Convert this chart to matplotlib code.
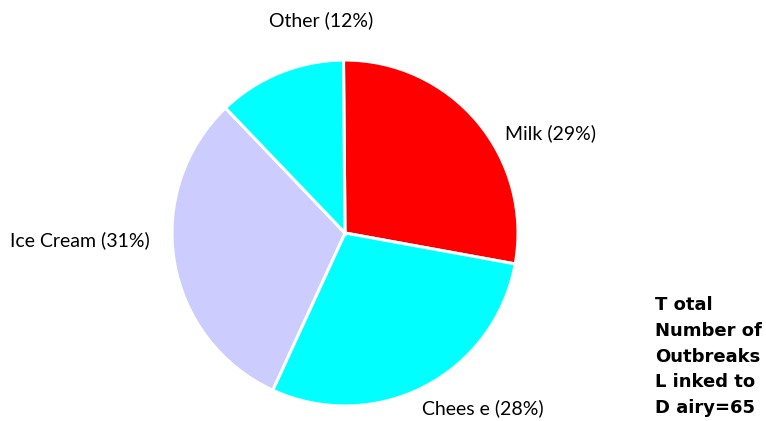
import matplotlib.pyplot as plt

categories = ["Milk", "Cheese", "Ice Cream", "Other"]
# wedge sizes (percent)
shares = [28, 29, 31, 12]
colours = ["#FF0000", "#00FFFF", "#CCCCFF", "#00FFFF"]
label_text = ["Milk (29%)", "Chees e (28%)", "Ice Cream (31%)", "Other (12%)"]
total_note = "T otal\nNumber of\nOutbreaks\nL inked to\nD airy=65"

plt.rcParams['font.family'] = ['Lato', 'DejaVu Sans']

fig = plt.figure(figsize=(7.66, 4.21), dpi=100)
ax = fig.add_axes([172 / 766, 15 / 421, 346 / 766, 346 / 421])
ax.pie(shares, colors=colours, startangle=90.5, counterclock=False,
       radius=1, wedgeprops={"edgecolor": "white", "linewidth": 2.2})
ax.set_xlim(-1, 1)
ax.set_ylim(-1, 1)
ax.axis("off")

# label positions in figure pixels
fig.text(505 / 766, 1 - 133 / 421, label_text[0], fontsize=14, ha="left", va="center")
fig.text(422 / 766, 1 - 408 / 421, label_text[1], fontsize=14, ha="left", va="center")
fig.text(150 / 766, 1 - 240 / 421, label_text[2], fontsize=14, ha="right", va="center")
fig.text(321 / 766, 1 - 20 / 421, label_text[3], fontsize=14, ha="center", va="center")

fig.text(655 / 766, 1 - 417 / 421, total_note, fontsize=13, fontweight="bold",
         family="DejaVu Sans", ha="left", va="bottom", linespacing=1.55)

plt.savefig("out.png", dpi=100)
